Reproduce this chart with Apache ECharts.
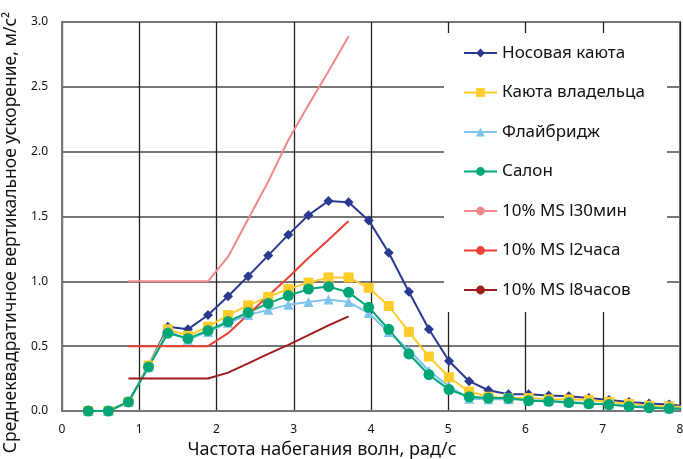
<!DOCTYPE html>
<html>
<head>
<meta charset="utf-8">
<script src="https://cdn.jsdelivr.net/npm/echarts@6/dist/echarts.min.js"></script>
<style>
html,body{margin:0;padding:0;background:#fff;}
#chart{width:683px;height:459px;}
</style>
</head>
<body>
<div id="chart"></div>
<script>
// Frequency points (rad/s)
var freq = [0.34, 0.60, 0.86, 1.12, 1.37, 1.63, 1.89, 2.15, 2.41, 2.67, 2.93, 3.19, 3.45, 3.71, 3.97, 4.23, 4.49, 4.75, 5.01, 5.27, 5.52, 5.78, 6.04, 6.30, 6.56, 6.82, 7.08, 7.34, 7.60, 7.86, 8.10];
// Series values (m/s^2)
var bowCabin   = [0.00, 0.00, 0.07, 0.35, 0.65, 0.63, 0.74, 0.885, 1.04, 1.20, 1.36, 1.51, 1.62, 1.61, 1.47, 1.22, 0.92, 0.63, 0.385, 0.23, 0.16, 0.13, 0.13, 0.12, 0.113, 0.10, 0.085, 0.07, 0.057, 0.05, 0.036];
var ownerCabin = [0.00, 0.00, 0.07, 0.35, 0.63, 0.58, 0.65, 0.74, 0.815, 0.88, 0.94, 0.99, 1.03, 1.03, 0.95, 0.81, 0.61, 0.42, 0.26, 0.15, 0.11, 0.10, 0.10, 0.09, 0.09, 0.085, 0.07, 0.055, 0.04, 0.035, 0.03];
var flybridge  = [0.00, 0.00, 0.07, 0.34, 0.62, 0.55, 0.61, 0.68, 0.74, 0.78, 0.82, 0.84, 0.86, 0.84, 0.755, 0.61, 0.47, 0.31, 0.19, 0.095, 0.09, 0.09, 0.085, 0.08, 0.07, 0.06, 0.05, 0.04, 0.03, 0.02, 0.02];
var salon      = [0.00, 0.00, 0.07, 0.34, 0.60, 0.56, 0.62, 0.69, 0.76, 0.83, 0.89, 0.94, 0.96, 0.915, 0.80, 0.63, 0.44, 0.28, 0.165, 0.11, 0.10, 0.10, 0.08, 0.075, 0.065, 0.055, 0.05, 0.035, 0.025, 0.02, 0.015];
// ISO 2631 motion sickness limits
var msFreq = [0.86, 1.89, 2.15, 2.41, 2.67, 2.93, 3.19, 3.45, 3.71];
var ms30min = [1.00, 1.00, 1.19, 1.48, 1.77, 2.09, 2.36, 2.62, 2.89];
var ms2h    = [0.50, 0.50, 0.60, 0.744, 0.888, 1.03, 1.18, 1.32, 1.465];
var ms8h    = [0.25, 0.25, 0.296, 0.368, 0.44, 0.51, 0.585, 0.66, 0.73];
var seriesNames = ['Носовая каюта', 'Каюта владельца', 'Флайбридж', 'Салон', '10% MS l30мин', '10% MS l2часа', '10% MS l8часов'];
var yTicks = ['0.0', '0.5', '1.0', '1.5', '2.0', '2.5', '3.0'];
var xTitle = 'Частота набегания волн, рад/с';
var yTitle = 'Среднеквадратичное вертикальное ускорение, м/с²';

function pairs(xs, ys){ return xs.map(function(x,i){ return [x, ys[i]]; }); }

var FONT = 'Noto Sans';
var chart = echarts.init(document.getElementById('chart'), null, {renderer:'canvas'});

function mainSeries(name, data, color, symbol, size){
  return {
    name: name, type: 'line', data: pairs(freq, data),
    symbol: symbol, symbolSize: size, showSymbol: true,
    lineStyle: {color: color, width: 2},
    itemStyle: {color: color},
    emphasis: {disabled: true}, animation: false, clip: true, z: 2
  };
}
function msSeries(name, data, color){
  return {
    name: name, type: 'line', data: pairs(msFreq, data),
    symbol: 'none', showSymbol: false,
    lineStyle: {color: color, width: 2},
    itemStyle: {color: color},
    emphasis: {disabled: true}, animation: false, z: 2
  };
}

var option = {
  animation: false,
  backgroundColor: '#fff',
  grid: {left: 62, right: 3, top: 22, bottom: 48, containLabel: false,
         outerBoundsMode: 'none',
         show: true, borderColor: '#777', borderWidth: 2},
  xAxis: {
    type: 'value', min: 0, max: 8, interval: 1,
    name: xTitle, nameLocation: 'middle', nameGap: 26,
    nameTextStyle: {fontFamily: FONT, fontSize: 18, color: '#111', padding: [0, 98, 0, 0]},
    axisLine: {show: true, lineStyle: {color: '#777', width: 2}},
    axisTick: {show: false},
    axisLabel: {fontFamily: FONT, fontSize: 12, color: '#111', margin: 13},
    splitLine: {show: true, lineStyle: {color: '#222', width: 1.3}}
  },
  yAxis: {
    type: 'value', min: 0, max: 3, interval: 0.5,
    name: yTitle, nameLocation: 'middle', nameGap: 40,
    nameTextStyle: {fontFamily: FONT, fontSize: 17.5, color: '#111', padding: [0, 32, 0, 0]},
    axisLine: {show: true, lineStyle: {color: '#777', width: 2}},
    axisTick: {show: false},
    axisLabel: {fontFamily: FONT, fontSize: 12, color: '#111', margin: 14,
      formatter: function(v){ return yTicks[Math.round(v*2)]; }},
    splitLine: {show: true, lineStyle: {color: '#777', width: 2}}
  },
  graphic: [{
    type: 'rect', z: 3, left: 444, top: 33,
    shape: {width: 223, height: 279},
    style: {fill: '#fff'}
  }],
  legend: {
    orient: 'vertical', left: 463, top: 43, padding: 0,
    itemWidth: 33, itemHeight: 11, itemGap: 19.5,
    textStyle: {fontFamily: FONT, fontSize: 17, color: '#111', lineHeight: 20},
    data: seriesNames, z: 5
  },
  series: [
    mainSeries(seriesNames[0], bowCabin, '#2B3990', 'diamond', 10),
    mainSeries(seriesNames[1], ownerCabin, '#FFCC29', 'rect', 10),
    mainSeries(seriesNames[2], flybridge, '#7EC3EC', 'triangle', 10),
    mainSeries(seriesNames[3], salon, '#00A676', 'circle', 11),
    msSeries(seriesNames[4], ms30min, '#F08A8A'),
    msSeries(seriesNames[5], ms2h, '#EE4036'),
    msSeries(seriesNames[6], ms8h, '#9E1B1E')
  ]
};
chart.setOption(option);
</script>
</body>
</html>
